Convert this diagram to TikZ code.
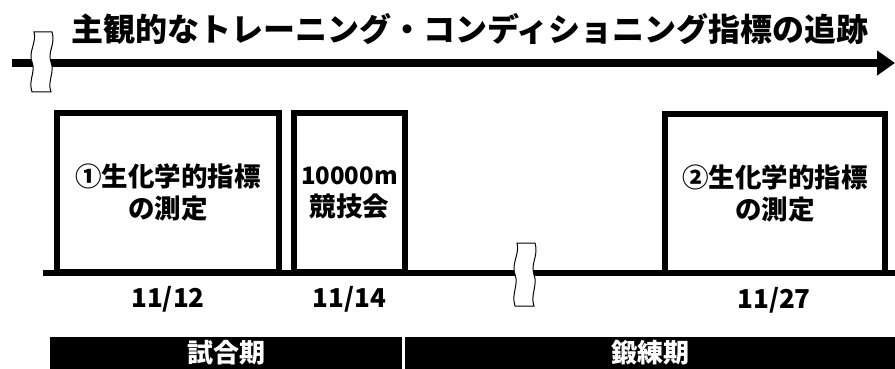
\documentclass[tikz,border=0pt]{standalone}
\usepackage{fontspec}
\setmainfont{Noto Sans CJK JP}
\usetikzlibrary{arrows.meta}
\tikzset{
  box/.style={draw, line width=6pt, fill=white, inner sep=0pt, outer sep=0pt,
    minimum height=159pt, align=center, font=\bfseries\fontsize{26.5}{32}\selectfont},
  datelabel/.style={inner sep=0pt, font=\bfseries\fontsize{26}{30}\selectfont},
  bar/.style={fill=black, text=white, inner sep=0pt, outer sep=0pt,
    minimum height=32pt, font=\bfseries\fontsize{26}{30}\selectfont},
  titletext/.style={inner sep=0pt, font=\bfseries\fontsize{32}{36}\selectfont},
  pics/breakmark/.style={code={
    \draw[fill=white, line width=1pt]
      (-8,-30) -- (10,-30)
      .. controls (14,-18) and (5,-10) .. (9,0)
      .. controls (13,10) and (5,20) .. (9,30)
      -- (-10,30)
      .. controls (-14,18) and (-6,10) .. (-10,0)
      .. controls (-14,-10) and (-5,-20) .. (-8,-30) -- cycle;
  }}
}
\begin{document}
\begin{tikzpicture}[x=1pt, y=-1pt]
\useasboundingbox (0,0) rectangle (895,369);
% top arrow
\coordinate (a0) at (12,63);
\coordinate (a1) at (895,63);
\draw[line width=8.5pt, -{Triangle[length=18pt, width=24pt]}] (a0) -- (a1);
\pic at (42,62) {breakmark};
\node[titletext] (title) at (470,29) {主観的なトレーニング・コンディショニング指標の追跡};
% timeline
\coordinate (t0) at (43,273);
\coordinate (t1) at (895,273);
\draw[line width=6.5pt] (t0) -- (t1);
% boxes
\node[box, minimum width=222pt] (m1) at (168,192.5) {①生化学的指標\\の測定};
\node[box, minimum width=111pt] (race) at (349.5,192.5) {{\fontsize{24}{32}\selectfont 10000m}\\競技会};
\node[box, minimum width=220pt] (m2) at (775,193.5) {②生化学的指標\\の測定};
\pic[yscale=1.05] at (525,274.5) {breakmark};
% dates
\node[datelabel] (d1) at (168,299) {11/12};
\node[datelabel] (d2) at (349.5,299) {11/14};
\node[datelabel] (d3) at (774,300) {11/27};
% period bars
\node[bar, minimum width=352pt] (p1) at (226,353) {試合期};
\node[bar, minimum width=490pt] (p2) at (650,353) {鍛練期};
\end{tikzpicture}
\end{document}
